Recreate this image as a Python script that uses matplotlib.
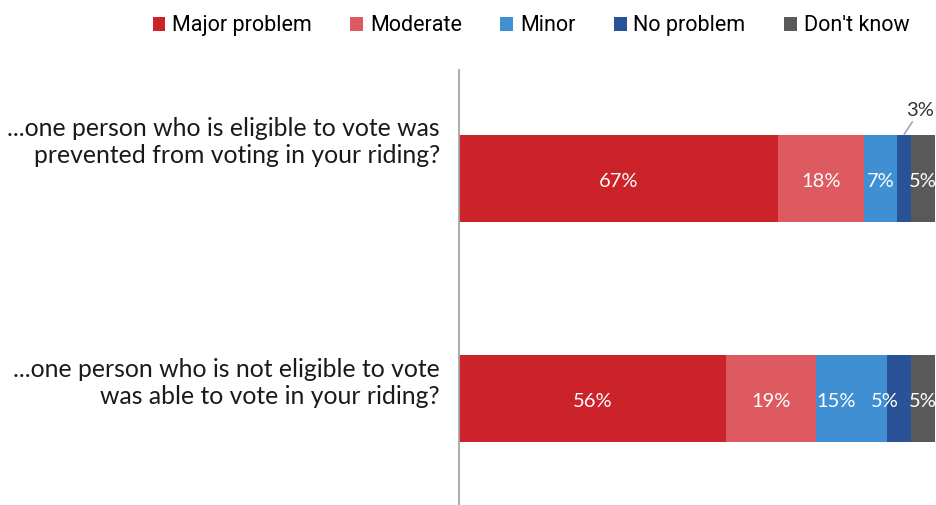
import matplotlib.pyplot as plt
import matplotlib.transforms as mtransforms
import numpy as np

# Survey responses, percent of respondents
questions = [
    "...one person who is eligible to vote was\nprevented from voting in your riding?",
    "...one person who is not eligible to vote\nwas able to vote in your riding?",
]
responses = ["Major problem", "Moderate", "Minor", "No problem", "Don't know"]
major = [67, 56]
moderate = [18, 19]
minor = [7, 15]
no_problem = [3, 5]
dont_know = [5, 5]

colors = ["#CC2229", "#DC5A60", "#3F8FD2", "#2A5296", "#595959"]

series = [major, moderate, minor, no_problem, dont_know]

# label placement tweaks (vertical lift of question text, sideways nudge of value labels)
question_lift = [0.165, 0.07]
label_nudge = {(1, "Minor"): -3.2, (1, "No problem"): -3.0}

fig = plt.figure(figsize=(9.36, 5.05), dpi=100)
ax = fig.add_axes([459 / 936, 0.0, 476 / 936, 435 / 505])

y = np.arange(len(questions))
left = np.zeros(len(questions))
handles = []
for name, vals, col in zip(responses, series, colors):
    vals = np.array(vals, dtype=float)
    bars = ax.barh(y, vals, left=left, height=0.395, color=col, label=name)
    handles.append(bars)
    for i, v in enumerate(vals):
        cx = left[i] + v / 2 + label_nudge.get((i, name), 0)
        if v < 4:
            # too thin for an inside label: put it above with a leader line
            ax.annotate(f"{v:.0f}%", xy=(cx, y[i] - 0.2), xytext=(cx + 3.3, y[i] - 0.27),
                        ha="center", va="bottom", fontsize=14.5, color="#333333",
                        family="Lato",
                        arrowprops=dict(arrowstyle="-", color="#A6A6A6", lw=1.2,
                                        shrinkA=0, shrinkB=0))
        else:
            ax.text(cx, y[i] + 0.015, f"{v:.0f}%", ha="center", va="center", fontsize=14.5,
                    color="white", family="Lato", clip_on=False)
    left += vals

ax.set_xlim(0, 100)
ax.set_ylim(1.484, -0.493)

# question text to the left of the axis line
trans = mtransforms.blended_transform_factory(ax.transAxes, ax.transData)
for i, q in enumerate(questions):
    ax.text(-19 / 476, y[i] - question_lift[i], q, transform=trans, ha="right",
            va="center", fontsize=17.8, color="#1a1a1a", linespacing=1.2,
            family="Lato")

ax.set_yticks([])
ax.set_xticks([])
for s in ["top", "right", "bottom"]:
    ax.spines[s].set_visible(False)
ax.spines["left"].set_color("#A6A6A6")
ax.spines["left"].set_linewidth(1.3)

fig.legend(handles=handles, labels=responses, loc="upper right", ncol=5,
           bbox_to_anchor=(0.992, 1.008), frameon=False,
           handlelength=0.6, handleheight=0.6, handletextpad=0.3, columnspacing=1.8,
           prop={"family": "Roboto", "size": 15.5})

fig.savefig("out.png", dpi=100)
